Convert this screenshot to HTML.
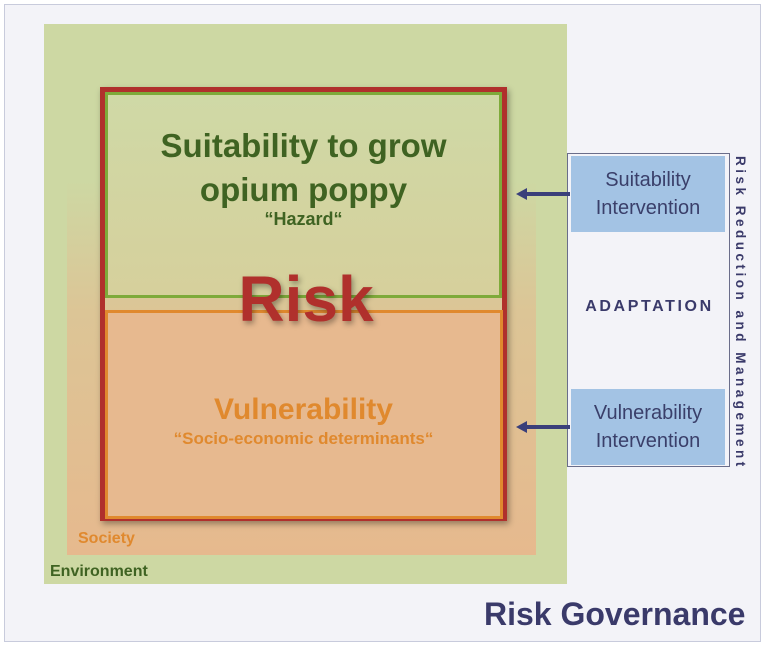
<!DOCTYPE html>
<html><head><style>
body{margin:0;width:765px;height:646px;background:#fff;position:relative;overflow:hidden;font-family:"Liberation Sans",sans-serif}
.a{position:absolute}
.c{text-align:center;font-weight:bold}
</style></head><body>
<div class="a" style="left:4px;top:4px;width:755px;height:636px;background:#f3f3f8;border:1px solid #c8cbdc"></div>
<div class="a" style="left:44px;top:24px;width:523px;height:560px;background:#cdd8a3"></div>
<div class="a" style="left:67px;top:180px;width:469px;height:375px;background:linear-gradient(#cdd8a3 0%,#dcc596 35%,#e6b98e 100%)"></div>
<div class="a" style="left:100px;top:87px;width:397px;height:424px;border:5px solid #b0302c;box-shadow:2px 3px 6px rgba(0,0,0,.35)"></div>
<div class="a" style="left:105px;top:92px;width:391px;height:200px;border:3px solid #7eaa3a;background:linear-gradient(#cfd9a6,#d6d09c)"></div>
<div class="a" style="left:105px;top:310px;width:392px;height:203px;border:3px solid #e0892e;background:#e7b98f"></div>
<div class="a c" style="left:105px;width:397px;top:124px;font-size:33px;line-height:44px;color:#3f6322">Suitability to grow<br>opium poppy</div>
<div class="a c" style="left:105px;width:397px;top:209px;font-size:18px;color:#3f6322">“Hazard“</div>
<div class="a c" style="left:105px;width:402px;top:263px;font-size:64px;line-height:72px;color:#b0302c;text-shadow:2px 3px 6px rgba(0,0,0,.35)">Risk</div>
<div class="a c" style="left:105px;width:397px;top:393px;font-size:30px;color:#e0892e">Vulnerability</div>
<div class="a c" style="left:105px;width:397px;top:429px;font-size:17px;color:#e0892e">“Socio-economic determinants“</div>
<div class="a" style="left:78px;top:530px;font-size:16px;font-weight:bold;color:#e0892e">Society</div>
<div class="a" style="left:50px;top:563px;font-size:16px;font-weight:bold;color:#3f6322">Environment</div>
<div class="a" style="left:567px;top:153px;width:161px;height:312px;border:1px solid #6a6d8a;background:#f3f3f8"></div>
<div class="a" style="left:571px;top:156px;width:154px;height:76px;background:#a3c3e4;color:#3a3f6a;font-size:20px;line-height:28px;text-align:center;padding-top:10px;box-sizing:border-box">Suitability<br>Intervention</div>
<div class="a" style="left:571px;top:389px;width:154px;height:76px;background:#a3c3e4;color:#3a3f6a;font-size:20px;line-height:28px;text-align:center;padding-top:10px;box-sizing:border-box">Vulnerability<br>Intervention</div>
<div class="a c" style="left:571px;width:157px;top:298px;font-size:16px;letter-spacing:2.6px;color:#3a3a6a">ADAPTATION</div>
<svg class="a" style="left:0;top:0" width="765" height="646">
<g stroke="#3a3f7a" stroke-width="4" fill="#3a3f7a">
<line x1="570" y1="194" x2="525" y2="194"/><polygon points="516,194 527,188 527,200" stroke="none"/>
<line x1="570" y1="427" x2="525" y2="427"/><polygon points="516,427 527,421 527,433" stroke="none"/>
</g>
<text x="736" y="156" transform="rotate(90 736 156)" font-family="Liberation Sans" font-weight="bold" font-size="13.5" letter-spacing="3.5" fill="#3a3a6a">Risk Reduction and Management</text>
</svg>
<div class="a" style="left:484px;top:596px;font-size:32px;font-weight:bold;color:#3a3a6a">Risk Governance</div>
</body></html>
